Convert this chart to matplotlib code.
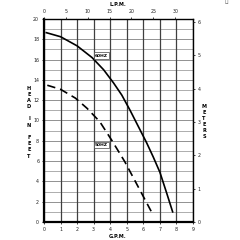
import numpy as np
import matplotlib
matplotlib.use("Agg")
import matplotlib.pyplot as plt

# pump curves (GPM, head in feet)
gpm_60 = [0.14, 1.0, 2.0, 2.9, 3.6, 4.2, 4.7, 5.2, 5.7, 6.2, 6.6, 7.0, 7.4, 7.77]
ft_60 = [18.65, 18.25, 17.35, 16.2, 15.0, 13.7, 12.5, 11.0, 9.4, 7.8, 6.4, 4.9, 2.9, 1.0]
gpm_50 = [0.2, 1.0, 1.9, 2.6, 3.37, 4.08, 4.88, 5.58, 6.49]
ft_50 = [13.47, 13.07, 12.2, 11.2, 9.88, 8.08, 5.94, 3.8, 1.0]

gpm_ticks = list(range(0, 10))
ft_ticks = list(range(0, 21, 2))
m_ticks = list(range(0, 7))
lpm_ticks = list(range(0, 31, 5))

FT_PER_M = 3.2808
LPM_PER_GPM = 3.785
fs = 3.4

fig = plt.figure(figsize=(2.4, 2.4), dpi=100)
ax = fig.add_axes([0.1833, 0.075, 0.6209, 0.846])

ax.set_xlim(0, 9)
ax.set_ylim(0, 20)

# grid
for f in range(0, 21):
    ax.axhline(f, color="#a0a0a0" if f % 2 else "#808080", lw=0.6, zorder=1)
for g in gpm_ticks:
    ax.axvline(g, color="#404040", lw=0.9, zorder=1)

ax.plot(gpm_60, ft_60, color="black", lw=1.2, zorder=3, solid_joinstyle="round")
ax.plot(gpm_50, ft_50, color="black", lw=1.2, ls=(0, (5, 3)), zorder=3)

box = dict(boxstyle="square,pad=0.25", fc="white", ec="#444444", lw=0.5)
ax.text(3.48, 16.4, "60HZ", fontsize=3.2, fontweight="bold", ha="center", va="center", bbox=box, zorder=4)
ax.text(3.48, 7.6, "50HZ", fontsize=3.2, fontweight="bold", ha="center", va="center", bbox=box, zorder=4)

for side in ["left", "bottom"]:
    ax.spines[side].set_linewidth(1.6)
for side in ["right", "top"]:
    ax.spines[side].set_linewidth(1.0)

ax.set_xticks(gpm_ticks)
ax.set_yticks(ft_ticks)
ax.tick_params(labelsize=fs, length=1.5, width=0.6, pad=2, colors="#222222")

# meters on the right
ax_r = ax.twinx()
ax_r.set_ylim(0, 20 / FT_PER_M)
ax_r.set_yticks(m_ticks)
ax_r.tick_params(labelsize=fs, length=1.5, width=0.6, pad=2, colors="#222222")
for s in ax_r.spines.values():
    s.set_visible(False)

# litres per minute on top
ax_t = ax.twiny()
ax_t.set_xlim(0, 9 * LPM_PER_GPM)
ax_t.set_xticks(lpm_ticks)
ax_t.tick_params(labelsize=fs, length=1.5, width=0.6, pad=2, colors="#222222")
for s in ax_t.spines.values():
    s.set_visible(False)

fig.text(118 / 240, 1 - 4 / 240, "L.P.M.", fontsize=3.6, fontweight="bold", ha="center", va="center")
fig.text(118 / 240, 1 - 237 / 240, "G.P.M.", fontsize=3.6, fontweight="bold", ha="center", va="center")

y = 88
for word in ["HEAD", "IN", "FEET"]:
    for ch in word:
        fig.text(29 / 240, 1 - y / 240, ch, fontsize=3.6, fontweight="bold", ha="center", va="center")
        y += 6.2
    y += 6.2

y = 107
for ch in "METERS":
    fig.text(204 / 240, 1 - y / 240, ch, fontsize=3.6, fontweight="bold", ha="center", va="center")
    y += 5.8

# little logo mark in the corner
fig.text(227 / 240, 1 - 4 / 240, "\u2514\u2518", fontsize=4, color="#666666", ha="center", va="center")

fig.savefig("out.png", dpi=100)
